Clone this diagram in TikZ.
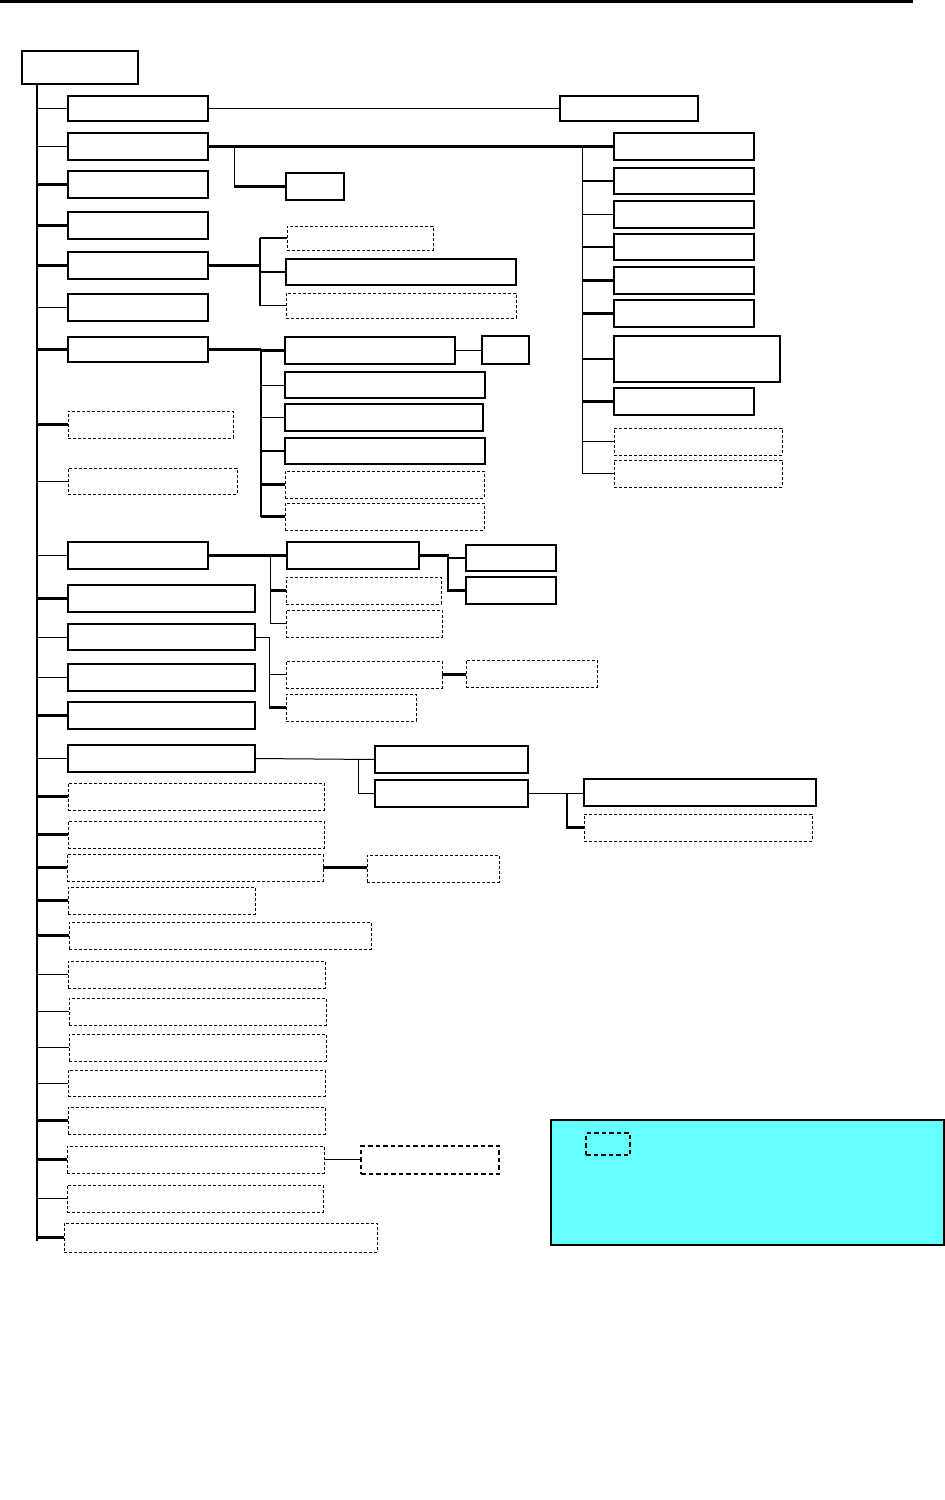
\documentclass[tikz,border=0pt]{standalone}
\tikzset{
  solidbox/.style={draw, line width=1.2pt, inner sep=0pt, outer sep=0pt},
  dashbox/.style={draw, line width=0.9pt, dash pattern=on 3pt off 2pt, inner sep=0pt, outer sep=0pt},
  dashboxb/.style={draw, line width=1.5pt, dash pattern=on 4.5pt off 3pt, inner sep=0pt, outer sep=0pt},
  legendbox/.style={draw, line width=1.2pt, fill=legcyan, inner sep=0pt, outer sep=0pt},
  thinline/.style={line width=1pt},
  thkline/.style={line width=2.4pt},
  medline/.style={line width=1.8pt},
}
\definecolor{legcyan}{HTML}{66FFFF}
\newcommand\bx[6]{\node[#6, minimum width={#4pt-#2pt}, minimum height={#5pt-#3pt}, anchor=north west] (#1) at (#2,#3) {};}
\begin{document}
\begin{tikzpicture}[x=1pt,y=-1pt]
\useasboundingbox (0,0) rectangle (945,1500);
% top rule
\coordinate (ruleL) at (0,1.5);
\coordinate (ruleR) at (913,1.5);
\draw[line width=2.6pt] (ruleL) -- (ruleR);

% root and trunk
\bx{root}{22}{51}{138}{84}{solidbox}
\coordinate (tk) at (37,0);
\coordinate (trunktop) at (37,84);
\coordinate (trunkbot) at (37,1241);
\draw[line width=1.2pt] (trunktop) -- (trunkbot);

% level-1 boxes
\bx{b1}{68}{96}{208}{121}{solidbox}
\bx{b2}{68}{133}{208}{160}{solidbox}
\bx{b3}{68}{171}{208}{198}{solidbox}
\bx{b4}{68}{212}{208}{239}{solidbox}
\bx{b5}{68}{252}{208}{279}{solidbox}
\bx{b6}{68}{294}{208}{321}{solidbox}
\bx{b7}{68}{337}{208}{362}{solidbox}
\bx{b8}{68}{411}{233}{438}{dashbox}
\bx{b9}{68}{468}{237}{494}{dashbox}
\bx{b10}{68}{542}{208}{569}{solidbox}
\bx{b11}{68}{585}{255}{612}{solidbox}
\bx{b12}{68}{624}{255}{650}{solidbox}
\bx{b13}{68}{664}{255}{691}{solidbox}
\bx{b14}{68}{702}{255}{729}{solidbox}
\bx{b15}{68}{745}{255}{772}{solidbox}
\bx{b16}{68}{783}{324}{810}{dashbox}
\bx{b17}{68}{821}{324}{848}{dashbox}
\bx{b18}{67}{854}{323}{881}{dashbox}
\bx{b19}{68}{887}{255}{914}{dashbox}
\bx{b20}{69}{922}{371}{949}{dashbox}
\bx{b21}{68}{961}{325}{988}{dashbox}
\bx{b22}{69}{998}{326}{1025}{dashbox}
\bx{b23}{69}{1034}{326}{1061}{dashbox}
\bx{b24}{68}{1070}{325}{1096}{dashbox}
\bx{b25}{68}{1107}{325}{1134}{dashbox}
\bx{b26}{67}{1146}{324}{1173}{dashbox}
\bx{b27}{67}{1185}{323}{1212}{dashbox}
\bx{b28}{64}{1223}{377}{1252}{dashbox}

% trunk connectors
\foreach \n in {b1,b2,b6,b9,b10,b12,b13,b15,b21,b22,b23,b24,b27}
  \draw[thinline] (\n.west -| tk) -- (\n.west);
\foreach \n in {b3,b4,b5,b7,b8,b11,b14,b16,b17,b18,b19,b20,b25,b26,b28}
  \draw[thkline] (\n.west -| tk) -- (\n.west);

% b1 -> c1
\bx{c1}{560}{96}{698}{121}{solidbox}
\draw[thinline] (b1.east) -- (c1.west);

% b2 -> right column and small box
\bx{r1}{614}{133}{754}{160}{solidbox}
\bx{r2}{614}{168}{754}{194}{solidbox}
\bx{r3}{614}{201}{754}{228}{solidbox}
\bx{r4}{614}{234}{754}{260}{solidbox}
\bx{r5}{614}{267}{754}{294}{solidbox}
\bx{r6}{614}{300}{754}{327}{solidbox}
\bx{r7}{614}{336}{780}{382}{solidbox}
\bx{r8}{614}{388}{754}{415}{solidbox}
\bx{r9}{614}{428}{782}{455}{dashbox}
\bx{r10}{614}{460}{782}{487}{dashbox}
\coordinate (rv) at (582,0);
\draw[thkline] (b2.east) -- (r1.west);
\draw[thinline] (r1.west -| rv) -- (r10.west -| rv);
\foreach \n in {r2,r4,r5,r6,r7,r8}
  \draw[thkline] (\n.west -| rv) -- (\n.west);
\foreach \n in {r3,r9,r10}
  \draw[thinline] (\n.west -| rv) -- (\n.west);
\bx{s2}{286}{173}{344}{200}{solidbox}
\coordinate (sv) at (234,0);
\draw[thinline] (b2.east -| sv) -- (s2.west -| sv);
\draw[thkline] (s2.west -| sv) -- (s2.west);

% b5 children
\bx{c5a}{287}{226}{433}{250}{dashbox}
\bx{c5b}{286}{259}{516}{285}{solidbox}
\bx{c5c}{286}{293}{516}{318}{dashbox}
\coordinate (v5) at (260,0);
\draw[thkline] (b5.east) -- (b5.east -| v5);
\draw[thkline] (c5a.west -| v5) -- (c5c.west -| v5);
\draw[thkline] (c5a.west -| v5) -- (c5a.west);
\draw[thkline] (c5b.west -| v5) -- (c5b.west);
\draw[thinline] (c5c.west -| v5) -- (c5c.west);

% b7 children
\bx{c7a}{285}{337}{455}{364}{solidbox}
\bx{c7b}{285}{372}{485}{398}{solidbox}
\bx{c7c}{285}{404}{483}{431}{solidbox}
\bx{c7d}{285}{438}{485}{464}{solidbox}
\bx{c7e}{285}{471}{484}{498}{dashbox}
\bx{c7f}{285}{503}{484}{530}{dashbox}
\bx{d7}{482}{336}{529}{364}{solidbox}
\coordinate (v7) at (261,0);
\draw[thkline] (b7.east) -- (b7.east -| v7);
\draw[medline] (b7.east -| v7) -- (c7f.west -| v7);
\draw[thkline] (c7a.west -| v7) -- (c7a.west);
\draw[thinline] (c7b.west -| v7) -- (c7b.west);
\draw[thinline] (c7c.west -| v7) -- (c7c.west);
\draw[thkline] (c7d.west -| v7) -- (c7d.west);
\draw[thkline] (c7e.west -| v7) -- (c7e.west);
\draw[thkline] (c7f.west -| v7) -- (c7f.west);
\draw[medline] (c7a.east) -- (c7a.east -| d7.west);

% b10 children
\bx{c10a}{287}{542}{419}{569}{solidbox}
\bx{c10b}{286}{577}{441}{604}{dashbox}
\bx{c10c}{286}{610}{442}{637}{dashbox}
\bx{d10a}{466}{545}{556}{571}{solidbox}
\bx{d10b}{466}{577}{556}{604}{solidbox}
\coordinate (v10) at (270,0);
\draw[thkline] (b10.east) -- (c10a.west);
\draw[thinline] (b10.east -| v10) -- (c10c.west -| v10);
\draw[thkline] (c10b.west -| v10) -- (c10b.west);
\draw[thinline] (c10c.west -| v10) -- (c10c.west);
\coordinate (v10b) at (448,0);
\draw[thkline] (c10a.east) -- (c10a.east -| v10b) -- (d10b.west -| v10b) -- (d10b.west);
\draw[thkline] (d10a.west -| v10b) -- (d10a.west);

% b12 children
\bx{c12a}{286}{661}{442}{688}{dashbox}
\bx{c12b}{286}{694}{416}{721}{dashbox}
\bx{d12}{466}{660}{597}{687}{dashbox}
\coordinate (v12) at (269,0);
\draw[thinline] (b12.east) -- (b12.east -| v12) -- (c12b.west -| v12);
\draw[thinline] (c12a.west -| v12) -- (c12a.west);
\draw[thkline] (c12b.west -| v12) -- (c12b.west);
\draw[thkline] (c12a.east) -- (c12a.east -| d12.west);

% b15 children
\bx{c15a}{375}{746}{528}{773}{solidbox}
\bx{c15b}{375}{780}{528}{807}{solidbox}
\bx{d15a}{584}{779}{816}{806}{solidbox}
\bx{d15b}{584}{814}{812}{841}{dashbox}
\coordinate (v15) at (358,0);
\draw[thinline] (b15.east) -- (c15a.west);
\draw[thinline] (b15.east -| v15) -- (c15b.west -| v15) -- (c15b.west);
\coordinate (v15b) at (567,0);
\draw[medline] (c15b.east) -- (c15b.east -| d15a.west);
\draw[thkline] (c15b.east -| v15b) -- (d15b.west -| v15b) -- (d15b.west);

% b18, b26 children
\bx{c18}{367}{855}{499}{882}{dashbox}
\draw[thkline] (b18.east) -- (b18.east -| c18.west);
\bx{c26}{361}{1146}{499}{1174}{dashboxb}
\draw[thinline] (b26.east) -- (b26.east -| c26.west);

% legend
\bx{leg}{551}{1120}{944}{1245}{legendbox}
\bx{legkey}{586}{1133}{630}{1155}{dashboxb}
\end{tikzpicture}
\end{document}
